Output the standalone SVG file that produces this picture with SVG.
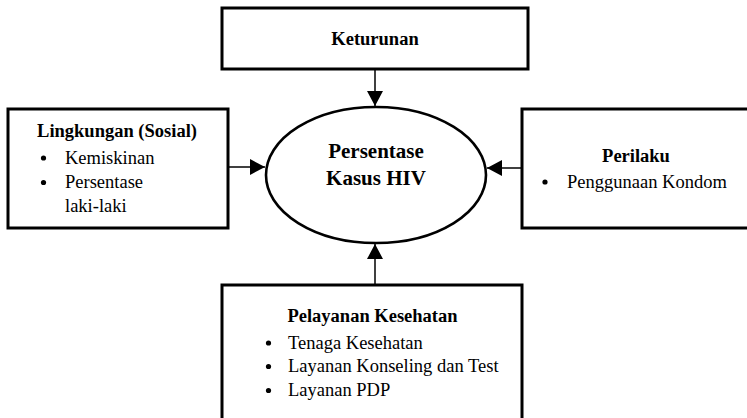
<svg xmlns="http://www.w3.org/2000/svg" width="747" height="418" viewBox="0 0 747 418">
<style>
.box{fill:#fff;stroke:#000;stroke-width:3}
.ell{fill:#fff;stroke:#000;stroke-width:2.6}
.con{stroke:#000;stroke-width:1.5;fill:none}
text{font-family:"Liberation Serif","Times New Roman",serif;fill:#000}
.h{font-weight:bold;font-size:18.5px}
.t{font-size:18.5px}
.c{font-weight:bold;font-size:21px}
</style>
<defs>
<marker id="arr" markerUnits="userSpaceOnUse" markerWidth="15" markerHeight="16" refX="15" refY="8" orient="auto">
<path d="M0,0 L15,8 L0,16 z" fill="#000"/>
</marker>
</defs>
<rect width="747" height="418" fill="#fff"/>
<g id="connectors">
<line class="con" x1="375" y1="69" x2="375" y2="106" marker-end="url(#arr)"/>
<line class="con" x1="228" y1="167" x2="265" y2="167" marker-end="url(#arr)"/>
<line class="con" x1="521" y1="168" x2="487" y2="168" marker-end="url(#arr)"/>
<line class="con" x1="375" y1="284" x2="375" y2="244" marker-end="url(#arr)"/>
</g>
<g id="center">
<ellipse class="ell" cx="376" cy="175" rx="110" ry="68"/>
<text class="c" x="376" y="158" text-anchor="middle">Persentase</text>
<text class="c" x="376" y="185" text-anchor="middle">Kasus HIV</text>
</g>
<g id="keturunan">
<rect class="box" x="222" y="8" width="306" height="61"/>
<text class="h" x="375" y="45" text-anchor="middle">Keturunan</text>
</g>
<g id="lingkungan">
<rect class="box" x="8" y="109" width="220" height="119"/>
<text class="h" x="117" y="137" text-anchor="middle">Lingkungan (Sosial)</text>
<circle cx="43.5" cy="158" r="2.6"/>
<text class="t" x="65" y="163.5">Kemiskinan</text>
<circle cx="43.5" cy="182.5" r="2.6"/>
<text class="t" x="65" y="188">Persentase</text>
<text class="t" x="65" y="211.5">laki-laki</text>
</g>
<g id="perilaku">
<rect class="box" x="522" y="109" width="240" height="119"/>
<text class="h" x="636" y="161.5" text-anchor="middle">Perilaku</text>
<circle cx="545" cy="182" r="2.6"/>
<text class="t" x="567" y="187.5">Penggunaan Kondom</text>
</g>
<g id="pelayanan">
<rect class="box" x="222" y="285" width="300" height="150"/>
<text class="h" x="372.5" y="321.5" text-anchor="middle">Pelayanan Kesehatan</text>
<circle cx="268.5" cy="343" r="2.6"/>
<text class="t" x="288" y="348.5">Tenaga Kesehatan</text>
<circle cx="268.5" cy="366.5" r="2.6"/>
<text class="t" x="288" y="372">Layanan Konseling dan Test</text>
<circle cx="268.5" cy="390.5" r="2.6"/>
<text class="t" x="288" y="396">Layanan PDP</text>
</g>
</svg>
